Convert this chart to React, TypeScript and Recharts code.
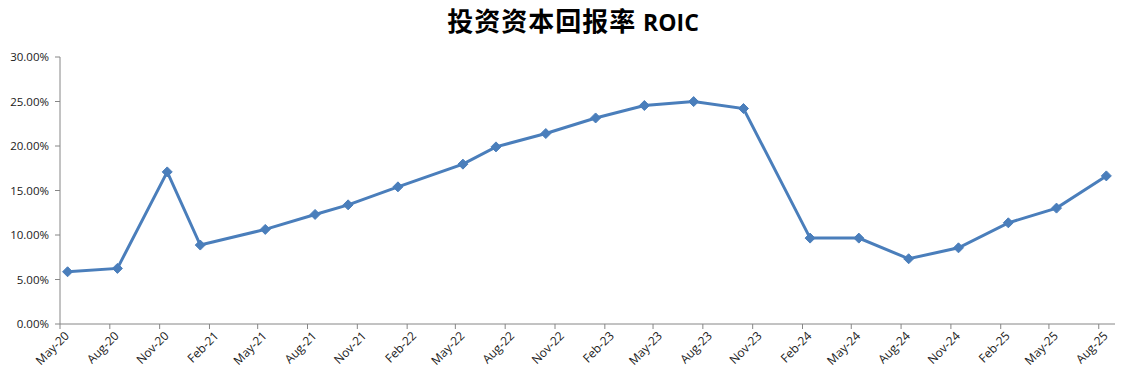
import {Line, LineChart, XAxis, YAxis} from "recharts";

// 季度 ROIC（%），日期取自图上各点的横向位置
const pointDates = [
    "2020-05-15", "2020-08-15", "2020-11-15", "2021-01-15", "2021-05-15", "2021-08-15",
    "2021-10-15", "2022-01-15", "2022-05-15", "2022-07-15", "2022-10-15", "2023-01-15",
    "2023-04-15", "2023-07-15", "2023-10-15", "2024-02-15", "2024-05-15", "2024-08-15",
    "2024-11-15", "2025-02-15", "2025-05-15", "2025-08-15",
];
const roicValues = [
    5.87, 6.25, 17.09, 8.87, 10.63, 12.31,
    13.39, 15.41, 17.96, 19.9, 21.4, 23.15,
    24.55, 24.99, 24.21, 9.65, 9.65, 7.33,
    8.56, 11.37, 13.02, 16.64,
];
const tickMonths = [
    "2020-05-01", "2020-08-01", "2020-11-01", "2021-02-01", "2021-05-01", "2021-08-01",
    "2021-11-01", "2022-02-01", "2022-05-01", "2022-08-01", "2022-11-01", "2023-02-01",
    "2023-05-01", "2023-08-01", "2023-11-01", "2024-02-01", "2024-05-01", "2024-08-01",
    "2024-11-01", "2025-02-01", "2025-05-01", "2025-08-01",
];
const yTicks = [0, 5, 10, 15, 20, 25, 30];
const monthNames = ["Jan", "Feb", "Mar", "Apr", "May", "Jun", "Jul", "Aug", "Sep", "Oct", "Nov", "Dec"];

const toTime = (s: string) => new Date(s + "T00:00:00Z").getTime();

const chartData = pointDates.map((d, i) => ({t: toTime(d), roic: roicValues[i]}));
const xTicks = tickMonths.map(toTime);
const xDomain = [toTime("2020-05-01"), toTime("2025-08-31")];

const fmtMonth = (t: number) => {
    const d = new Date(t);
    return `${monthNames[d.getUTCMonth()]}-${String(d.getUTCFullYear()).slice(2)}`;
};

interface TickProps {
    x?: number;
    y?: number;
    payload?: { value: number };
}

const XTick = ({x, y, payload}: TickProps) => {
    if (x === undefined || y === undefined || !payload) return null;
    return (
        <g transform={`translate(${x},${y})`}>
            <text x={3} y={11} textAnchor="end" transform="rotate(-45)"
                  fontSize={12} fontFamily="'Open Sans', sans-serif" fill="#1a1a1a">
                {fmtMonth(payload.value)}
            </text>
        </g>
    );
};

interface YTickProps {
    x?: number;
    y?: number;
    payload?: { value: number };
}

const YTick = ({x, y, payload}: YTickProps) => {
    if (x === undefined || y === undefined || !payload) return null;
    return (
        <text x={x - 4} y={y + 4} textAnchor="end" fontSize={11.5}
              fontFamily="'Open Sans', sans-serif" fill="#1a1a1a">
            {`${payload.value.toFixed(2)}%`}
        </text>
    );
};

interface DotProps {
    cx?: number;
    cy?: number;
    index?: number;
}

const Diamond = ({cx, cy, index}: DotProps) => {
    if (cx === undefined || cy === undefined) return null;
    const r = 5;
    return (
        <path key={`d-${index}`} d={`M${cx},${cy - r}L${cx + r},${cy}L${cx},${cy + r}L${cx - r},${cy}Z`}
              fill="#4a7ebb" stroke="#4a7ebb" strokeWidth={1}/>
    );
};

const App = () => {
    return (
        <div style={{position: "absolute", left: 0, top: 0, width: 1135, height: 377, background: "#fff"}}>
            <div style={{
                position: "absolute", left: 0, top: 2, width: 1146, textAlign: "center",
                fontSize: 26, fontWeight: 700, color: "#000", whiteSpace: "nowrap",
                fontFamily: "'Noto Sans CJK SC', sans-serif", lineHeight: "36px", letterSpacing: 1,
            }}>
                投资资本回报率 <span style={{fontFamily: "'Open Sans', sans-serif", fontSize: 23, letterSpacing: 0}}>ROIC</span>
            </div>
            <LineChart width={1135} height={377} data={chartData}
                       margin={{top: 57, right: 20, left: 0, bottom: 0}}>
                <XAxis dataKey="t" type="number" domain={xDomain} ticks={xTicks} interval={0}
                       allowDataOverflow height={53} tick={<XTick/>}
                       axisLine={{stroke: "#868686"}} tickLine={{stroke: "#868686"}} tickSize={5}/>
                <YAxis type="number" domain={[0, 30]} ticks={yTicks} interval={0} width={60}
                       tick={<YTick/>}
                       axisLine={{stroke: "#868686"}} tickLine={{stroke: "#868686"}} tickSize={5}/>
                <Line type="linear" dataKey="roic" stroke="#4a7ebb" strokeWidth={3}
                      dot={<Diamond/>} activeDot={false} isAnimationActive={false}/>
            </LineChart>
        </div>
    );
};

export default App;
